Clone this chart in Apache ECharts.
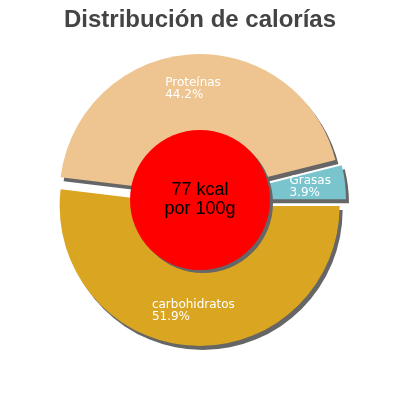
<!DOCTYPE html>
<html lang="es">
<head>
    <meta charset="UTF-8">
    <title>Distribución de calorías</title>
    <script src="https://cdn.jsdelivr.net/npm/echarts@6/dist/echarts.min.js"></script>
    <style>
        html, body {margin: 0; padding: 0; background: #fff;}
        #main_1 {width: 400px; height: 400px;}
    </style>
</head>
<body>
<div id="main_1"></div>
<script>
    // datos
    var nombres = ['Grasas', 'carbohidratos', 'Proteínas'];
    var valores = [3.9, 51.9, 44.2];
    var colores = ['#7AC5CD', '#DAA520', '#EEC591'];
    var kcal = 77;
    var unidad = 'por 100g';

    var sombra = {
        shadowBlur: 0,
        shadowOffsetX: 3,
        shadowOffsetY: 4,
        shadowColor: '#666'
    };

    var rebanadas = [];
    var etiquetas = [];
    for (var i = 0; i < nombres.length; i++) {
        rebanadas.push({
            name: nombres[i],
            value: valores[i],
            selected: true,
            itemStyle: {color: colores[i]}
        });
        etiquetas.push({
            name: nombres[i],
            value: valores[i],
            selected: true
        });
    }

    // empieza donde termina "Grasas" (3.9% de la vuelta)
    var inicio = valores[0] / 100 * 360;

    var myChart = echarts.init(document.getElementById('main_1'));

    var option = {
        animation: false,
        title: {
            text: 'Distribución de calorías',
            left: 'center',
            top: 3,
            textStyle: {
                fontFamily: 'Liberation Sans',
                fontSize: 24,
                fontWeight: 'bold',
                color: '#444'
            }
        },
        series: [
            {
                type: 'pie',
                z: 2,
                center: [200, 200],
                radius: [0, 140],
                startAngle: inicio,
                clockwise: true,
                selectedMode: 'multiple',
                selectedOffset: 6,
                silent: true,
                label: {show: false},
                labelLine: {show: false},
                itemStyle: sombra,
                select: {itemStyle: sombra},
                data: rebanadas
            },
            {
                type: 'pie',
                z: 3,
                center: [200, 200],
                radius: [0, 70],
                silent: true,
                itemStyle: {
                    color: '#ff0000',
                    shadowBlur: 0,
                    shadowOffsetX: 3,
                    shadowOffsetY: 3,
                    shadowColor: '#666'
                },
                labelLine: {show: false},
                label: {
                    show: true,
                    position: 'center',
                    formatter: kcal + ' kcal\n' + unidad,
                    color: '#000',
                    fontFamily: 'Liberation Sans',
                    fontSize: 18,
                    lineHeight: 19
                },
                data: [{name: 'kcal', value: kcal}]
            },
            {
                // solo para colocar las etiquetas
                type: 'pie',
                z: 4,
                center: [200, 200],
                radius: [64, 140],
                startAngle: inicio,
                clockwise: true,
                selectedMode: 'multiple',
                selectedOffset: 6,
                silent: true,
                itemStyle: {color: 'rgba(0,0,0,0)'},
                select: {itemStyle: {color: 'rgba(0,0,0,0)'}},
                labelLine: {show: false},
                label: {
                    show: true,
                    position: 'inside',
                    formatter: function (p) {
                        return '{t|' + p.name + '}\n{t|' + p.value.toFixed(1) + '%}';
                    },
                    rich: {
                        t: {
                            align: 'left',
                            color: '#fff',
                            fontFamily: 'DejaVu Sans',
                            fontSize: 12,
                            lineHeight: 12
                        }
                    }
                },
                data: etiquetas
            }
        ]
    };

    myChart.setOption(option);
</script>
</body>
</html>
